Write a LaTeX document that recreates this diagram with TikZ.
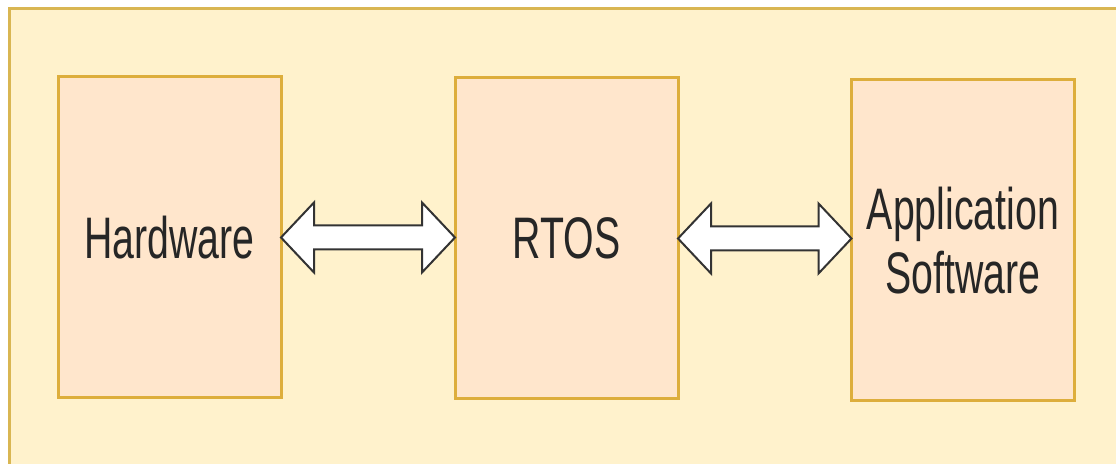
\documentclass[tikz,border=0pt]{standalone}
\usepackage{fontspec}
\newfontfamily\labelfont[FakeStretch=0.67]{Liberation Sans}
\usetikzlibrary{calc}
\definecolor{panelfill}{HTML}{FFF2CC}
\definecolor{panelline}{HTML}{D9B652}
\definecolor{boxfill}{HTML}{FFE6CC}
\definecolor{boxline}{HTML}{DDAE3C}
\definecolor{textgray}{HTML}{262626}
\definecolor{arrowline}{HTML}{333333}
\tikzset{
  layer/.style={draw=boxline, fill=boxfill, line width=3pt,
    minimum width=223pt, minimum height=321pt, inner sep=0pt, outer sep=0pt,
    align=center, text=textgray,
    font=\labelfont\fontsize{58.6}{64.5}\selectfont},
  blockarrow/.style={draw=arrowline, fill=white, line width=2pt, line join=miter}
}
% double-headed block arrow between the east side of #1 and the west side of #2
\newcommand\linkarrow[2]{%
  \draw[blockarrow] let \p1=(#1.east), \p2=(#2.west) in
    (\x1,\y1) -- (\x1+33,\y1+35) -- (\x1+33,\y1+12) -- (\x2-33,\y1+12)
    -- (\x2-33,\y1+35) -- (\x2,\y1) -- (\x2-33,\y1-35) -- (\x2-33,\y1-12)
    -- (\x1+33,\y1-12) -- (\x1+33,\y1-35) -- cycle;}
\begin{document}
\begin{tikzpicture}[x=1pt,y=1pt]
  \useasboundingbox (0,0) rectangle (1116,463);
  \fill[white] (0,0) rectangle (1116,463);
  % surrounding panel
  \draw[draw=panelline, fill=panelfill, line width=3pt] (9,454) rectangle (1135,-20);
  % layers
  \node[layer] (hw)   at (169.5,225.5) {Hardware};
  \node[layer] (rtos) at (566.5,224.5) {RTOS};
  \node[layer] (app)  at (963,222.5)   {Application\\Software};
  % connectors
  \linkarrow{hw}{rtos}
  \linkarrow{rtos}{app}
\end{tikzpicture}
\end{document}
